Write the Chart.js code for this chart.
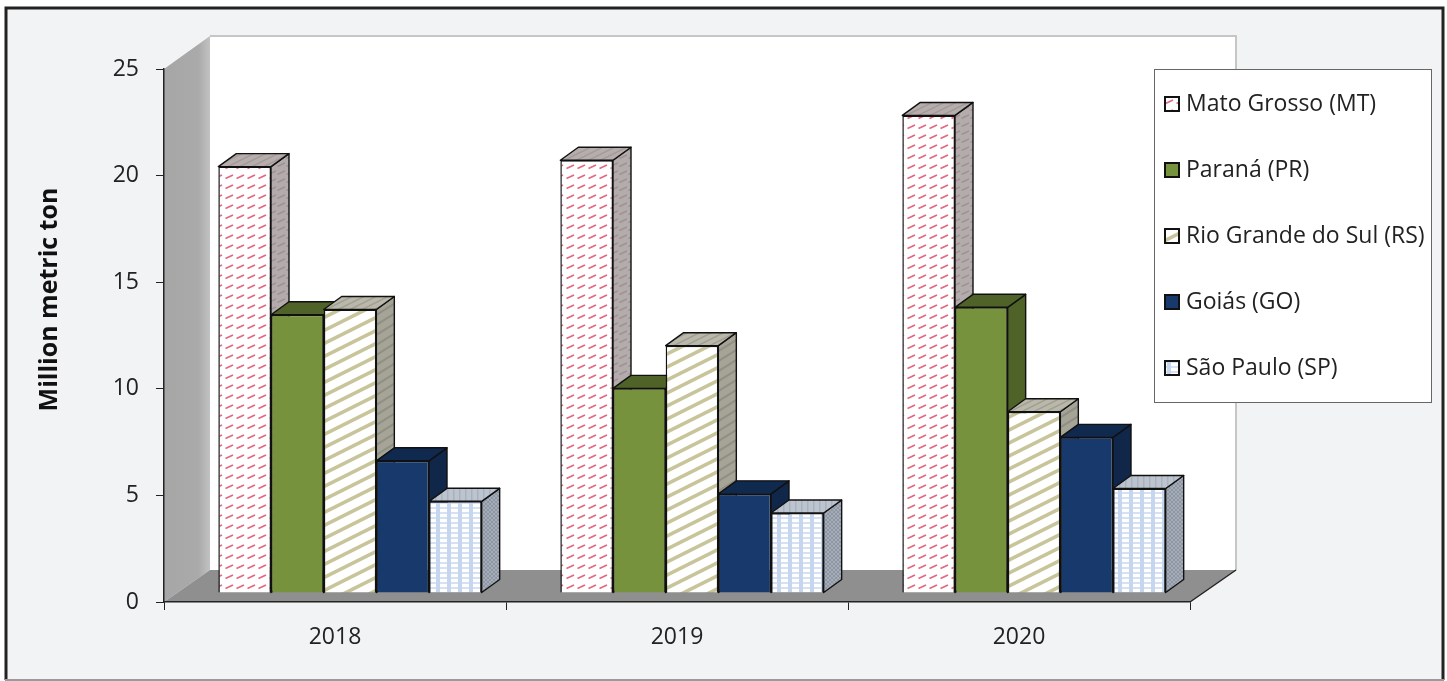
<!DOCTYPE html>
<html><head><meta charset="utf-8">
<style>html,body{margin:0;padding:0;background:#fff}canvas{display:block}</style>
<script src="https://cdn.jsdelivr.net/npm/chart.js@4/dist/chart.umd.min.js"></script>
</head><body>
<div style="width:1447px;height:681px"><canvas id="c" width="1447" height="681"></canvas></div>
<script>
const categories = ['2018','2019','2020'];
const yTicks = [0,5,10,15,20,25];
const matoGrosso = [20.0,20.3,22.4];
const parana = [13.05,9.6,13.4];
const rioGrande = [13.3,11.6,8.5];
const goias = [6.2,4.65,7.3];
const saoPaulo = [4.3,3.75,4.9];
const seriesNames = ['Mato Grosso (MT)','Paraná (PR)','Rio Grande do Sul (RS)','Goiás (GO)','São Paulo (SP)'];

function tile(w,h,bg,draw){
  const t=document.createElement('canvas');t.width=w;t.height=h;
  const g=t.getContext('2d');g.fillStyle=bg;g.fillRect(0,0,w,h);draw&&draw(g,w,h);
  return t;
}
const P=document.createElement('canvas').getContext('2d');
const pat=t=>P.createPattern(t,'repeat');
function dashes(col,lw){return g=>{g.strokeStyle=col;g.lineWidth=lw;
  g.beginPath();g.moveTo(1.5,7.5);g.lineTo(9,4);g.stroke();};}
function stripes(col,lw,h){return (g,w)=>{g.strokeStyle=col;g.lineWidth=lw;
  for(let k=-1;k<=2;k++){g.beginPath();g.moveTo(-2,k*h+1);g.lineTo(w+2,k*h-h*(w+4)/w+1);g.stroke();}};}
function grid(col,hcol){return (g,w,h)=>{g.fillStyle=hcol;g.fillRect(0,1,w,2);g.fillStyle=col;g.fillRect(3,0,4,h);};}

const front=[
 pat(tile(11,10,'#ffffff',dashes('#e4687f',1.7))),
 '#76923c',
 pat(tile(26,13,'#ffffff',stripes('#c9c59a',3.6,13))),
 '#17396b',
 pat(tile(11,5,'#ffffff',grid('#c6d6ef','#d6e1f3')))
];
const side=[
 pat(tile(9,8,'#b2acac',dashes('#a38f92',1.5))),
 '#4f6228',
 pat(tile(16,10,'#a5a497',stripes('#8f8f84',2,10))),
 '#10274a',
 pat(tile(4,4,'#8d96a3',g=>{g.fillStyle='#a6adb8';g.fillRect(0,0,2,2);g.fillRect(2,2,2,2);}))
];
const topFace=[
 pat(tile(12,6,'#b7adad',stripes('#a29a9a',1.5,6))),
 '#4f6228',
 pat(tile(12,6,'#b9b8aa',stripes('#9f9e92',1.5,6))),
 '#10294f',
 pat(tile(6,6,'#bcc4cf',(g)=>{g.fillStyle='#a8b1bd';g.fillRect(0,0,1.5,6);}))
];
const swatches=front.map(f=>{
  const t=document.createElement('canvas');t.width=16;t.height=16;
  const g=t.getContext('2d');g.fillStyle=f;g.fillRect(0,0,16,16);
  g.strokeStyle='#111';g.lineWidth=2;g.strokeRect(1,1,14,14);return t;
});

const BAR_DX=15,BAR_DY=-9,DEPTH_X=18,DEPTH_Y=-13,WALL_X=46,WALL_Y=-33,FLOOR_Y=-32,TITLE_SHIFT=-36;

const scene={
 id:'scene',
 afterLayout(chart){
   const l=chart.legend;
   l.left=1126.5;l.top=49.5;l.right=1447;l.bottom=660;l.width=320;l.height=610;
   const s=chart.scales.y;
   if(!s._shifted){
     const orig=s.drawTitle;
     s.drawTitle=function(){const c=this.ctx;c.save();c.translate(0,TITLE_SHIFT);orig.call(this);c.restore();};
     s._shifted=true;
   }
 },
 beforeDraw(chart){
   const c=chart.ctx,a=chart.chartArea;
   c.save();
   c.fillStyle='#f2f3f5';c.fillRect(5,7,1438,673);
   c.strokeStyle='#222';c.lineWidth=3;
   c.beginPath();c.moveTo(6,680);c.lineTo(6,8);c.lineTo(1443,8);c.lineTo(1443,680);c.stroke();
   c.strokeStyle='#9a9a9a';c.lineWidth=2;c.beginPath();c.moveTo(5,680);c.lineTo(1444,680);c.stroke();
   // back wall
   c.fillStyle='#ffffff';
   c.fillRect(a.left+WALL_X,a.top+WALL_Y,a.right-a.left,a.bottom+FLOOR_Y-a.top-WALL_Y);
   c.strokeStyle='#c6c6c6';c.lineWidth=2;
   c.beginPath();c.moveTo(a.left+WALL_X,a.top+WALL_Y);c.lineTo(a.right+WALL_X,a.top+WALL_Y);
   c.lineTo(a.right+WALL_X,a.bottom+FLOOR_Y);c.stroke();
   // left wall
   const g=c.createLinearGradient(a.left,0,a.left+WALL_X,0);
   g.addColorStop(0,'#a6a6a6');g.addColorStop(.75,'#aaaaaa');g.addColorStop(1,'#c2c2c2');
   c.fillStyle=g;c.beginPath();c.moveTo(a.left,a.top);c.lineTo(a.left+WALL_X,a.top+WALL_Y);
   c.lineTo(a.left+WALL_X,a.bottom+FLOOR_Y);c.lineTo(a.left,a.bottom);c.closePath();c.fill();
   // floor
   c.fillStyle='#8f8f8f';c.beginPath();c.moveTo(a.left,a.bottom);c.lineTo(a.left+WALL_X,a.bottom+FLOOR_Y);
   c.lineTo(a.right+WALL_X,a.bottom+FLOOR_Y);c.lineTo(a.right,a.bottom);c.closePath();c.fill();
   c.strokeStyle='#222';c.lineWidth=1.5;c.beginPath();c.moveTo(a.right,a.bottom);c.lineTo(a.right+WALL_X,a.bottom+FLOOR_Y);c.stroke();
   // legend box
   c.fillStyle='#fff';c.fillRect(1154,69,278,334);
   c.strokeStyle='#666';c.lineWidth=1;c.strokeRect(1154.5,69.5,277,333);
   c.restore();
 },
 beforeDatasetsDraw(chart){
   const c=chart.ctx;
   c.save();c.translate(BAR_DX,BAR_DY);
   chart.data.datasets.forEach((ds,i)=>{
     const meta=chart.getDatasetMeta(i);
     meta.data.forEach(el=>{
       const l=el.x-el.width/2,r=el.x+el.width/2,t=el.y,b=el.base;
       c.strokeStyle='#111';c.lineWidth=1.4;c.lineJoin='round';
       c.fillStyle=side[i];c.beginPath();c.moveTo(r,t);c.lineTo(r+DEPTH_X,t+DEPTH_Y);
       c.lineTo(r+DEPTH_X,b+DEPTH_Y);c.lineTo(r,b);c.closePath();c.fill();c.stroke();
       c.fillStyle=topFace[i];c.beginPath();c.moveTo(l,t);c.lineTo(l+DEPTH_X,t+DEPTH_Y);
       c.lineTo(r+DEPTH_X,t+DEPTH_Y);c.lineTo(r,t);c.closePath();c.fill();c.stroke();
     });
     meta.controller.draw();
   });
   c.restore();
   return false;
 }
};

const fontFam='"Open Sans", sans-serif';
const mk=(label,data,i)=>({label,data,backgroundColor:front[i],borderColor:'#111',borderWidth:1.5});
new Chart(document.getElementById('c'),{
 type:'bar',
 data:{labels:categories,datasets:[
   mk(seriesNames[0],matoGrosso,0),mk(seriesNames[1],parana,1),mk(seriesNames[2],rioGrande,2),
   mk(seriesNames[3],goias,3),mk(seriesNames[4],saoPaulo,4)]},
 options:{
  responsive:false,animation:false,
  layout:{padding:{left:0,right:257,top:69,bottom:0}},
  datasets:{bar:{barPercentage:1,categoryPercentage:0.77}},
  plugins:{
   tooltip:{enabled:false},
   title:{display:false},
   legend:{display:true,position:'chartArea',align:'start',
     labels:{color:'#222',font:{family:fontFam,size:23},padding:43,usePointStyle:true,pointStyleWidth:5,boxHeight:16,
       generateLabels(chart){
         const ls=Chart.defaults.plugins.legend.labels.generateLabels(chart);
         ls.forEach((l,i)=>{l.pointStyle=swatches[i];});return ls;
       }}}
  },
  scales:{
   x:{afterFit(s){s.height=79;},
      border:{color:'#222',width:1.5},
      grid:{drawOnChartArea:false,drawTicks:true,tickLength:8,color:'#222',offset:true},
      ticks:{color:'#222',font:{family:fontFam,size:23},padding:14,maxRotation:0}},
   y:{min:0,max:25,afterFit(s){s.width=164;},
      afterBuildTicks(s){s.ticks=yTicks.map(v=>({value:v}));},
      border:{color:'#222',width:1.5},
      grid:{drawOnChartArea:false,drawTicks:true,tickLength:8,color:'#222'},
      ticks:{color:'#222',font:{family:fontFam,size:23},padding:17},
      title:{display:true,text:'Million metric ton',color:'#111',font:{family:fontFam,size:25,weight:'bold'},padding:{top:35,bottom:0}}}
  }
 },
 plugins:[scene]
});
</script>
</body></html>
